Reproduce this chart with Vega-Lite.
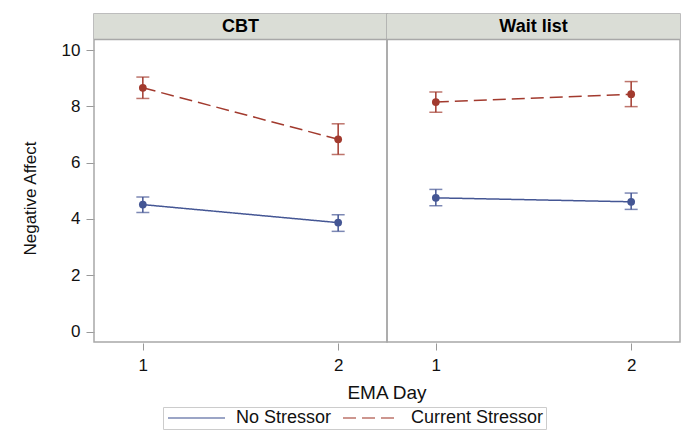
{
  "$schema": "https://vega.github.io/schema/vega-lite/v6.json",
  "padding": {"left": 21, "top": 13, "right": 5, "bottom": 5},
  "background": "white",
  "data": {"values": [
    {"Group": "CBT", "Day": 1, "Condition": "No Stressor", "Mean": 4.51, "Lo": 4.23, "Hi": 4.78},
    {"Group": "CBT", "Day": 2, "Condition": "No Stressor", "Mean": 3.87, "Lo": 3.56, "Hi": 4.15},
    {"Group": "CBT", "Day": 1, "Condition": "Current Stressor", "Mean": 8.66, "Lo": 8.28, "Hi": 9.04},
    {"Group": "CBT", "Day": 2, "Condition": "Current Stressor", "Mean": 6.83, "Lo": 6.29, "Hi": 7.38},
    {"Group": "Wait list", "Day": 1, "Condition": "No Stressor", "Mean": 4.75, "Lo": 4.47, "Hi": 5.05},
    {"Group": "Wait list", "Day": 2, "Condition": "No Stressor", "Mean": 4.61, "Lo": 4.34, "Hi": 4.92},
    {"Group": "Wait list", "Day": 1, "Condition": "Current Stressor", "Mean": 8.15, "Lo": 7.79, "Hi": 8.51},
    {"Group": "Wait list", "Day": 2, "Condition": "Current Stressor", "Mean": 8.43, "Lo": 7.99, "Hi": 8.88}
  ]},
  "facet": {"column": {"field": "Group", "type": "nominal", "title": "EMA Day",
    "header": {"labels": false, "titleOrient": "bottom", "titleFont": "Liberation Sans", "titleFontSize": 19, "titleFontWeight": "normal", "titleColor": "#111111", "titlePadding": 1}}},
  "spacing": 0,
  "bounds": "flush",
  "spec": {
    "width": 293,
    "height": 328,
    "layer": [
      {
        "transform": [{"aggregate": [{"op": "count", "as": "n"}], "groupby": ["Group"]}],
        "mark": {"type": "rect", "fill": "#DADDD6", "stroke": null},
        "encoding": {
          "x": {"datum": 0.75, "type": "quantitative"},
          "x2": {"datum": 2.25},
          "y": {"datum": 10.37, "type": "quantitative"},
          "y2": {"datum": 11.28}
        }
      },
      {
        "transform": [{"aggregate": [{"op": "count", "as": "n"}], "groupby": ["Group"]}],
        "mark": {"type": "rule", "color": "#A8A8A8", "strokeWidth": 1.5},
        "encoding": {
          "x": {"datum": 0.75, "type": "quantitative"},
          "x2": {"datum": 2.25},
          "y": {"datum": 10.37, "type": "quantitative"}
        }
      },
      {
        "transform": [{"aggregate": [{"op": "count", "as": "n"}], "groupby": ["Group"]}],
        "mark": {"type": "text", "font": "Liberation Sans", "fontSize": 18, "fontWeight": "bold", "color": "#000000", "baseline": "middle", "align": "center"},
        "encoding": {
          "x": {"datum": 1.5, "type": "quantitative"},
          "y": {"datum": 10.82, "type": "quantitative"},
          "text": {"field": "Group", "type": "nominal"}
        }
      },
      {
        "mark": {"type": "line", "strokeWidth": 1.5},
        "encoding": {
          "x": {"field": "Day", "type": "quantitative", "title": null,
                "scale": {"domain": [0.75, 2.25], "nice": false, "zero": false},
                "axis": {"values": [1, 2], "format": "d"}},
          "y": {"field": "Mean", "type": "quantitative", "title": "Negative Affect",
                "scale": {"domain": [-0.37, 11.28], "nice": false, "zero": false},
                "axis": {"values": [0, 2, 4, 6, 8, 10], "titleY": 184}},
          "color": {"field": "Condition", "type": "nominal",
                    "scale": {"domain": ["No Stressor", "Current Stressor"], "range": ["#445694", "#A23A2E"]},
                    "legend": {"title": null, "orient": "none", "legendX": 69, "legendY": 393, "direction": "horizontal", "symbolType": "M-1,0H8.5"}},
          "strokeDash": {"field": "Condition", "type": "nominal",
                    "scale": {"domain": ["No Stressor", "Current Stressor"], "range": [[1, 0], [13, 6]]},
                    "legend": {"title": null, "orient": "none", "legendX": 69, "legendY": 393, "direction": "horizontal", "symbolType": "M-1,0H8.5"}}
        }
      },
      {
        "mark": {"type": "rule", "strokeWidth": 1.5},
        "encoding": {
          "x": {"field": "Day", "type": "quantitative"},
          "y": {"field": "Lo", "type": "quantitative"},
          "y2": {"field": "Hi"},
          "color": {"field": "Condition", "type": "nominal"}
        }
      },
      {
        "mark": {"type": "tick", "orient": "horizontal", "size": 13, "thickness": 1.5},
        "encoding": {
          "x": {"field": "Day", "type": "quantitative"},
          "y": {"field": "Lo", "type": "quantitative"},
          "color": {"field": "Condition", "type": "nominal"}
        }
      },
      {
        "mark": {"type": "tick", "orient": "horizontal", "size": 13, "thickness": 1.5},
        "encoding": {
          "x": {"field": "Day", "type": "quantitative"},
          "y": {"field": "Hi", "type": "quantitative"},
          "color": {"field": "Condition", "type": "nominal"}
        }
      },
      {
        "mark": {"type": "point", "filled": true, "size": 60, "opacity": 1, "shape": "circle"},
        "encoding": {
          "x": {"field": "Day", "type": "quantitative"},
          "y": {"field": "Mean", "type": "quantitative"},
          "color": {"field": "Condition", "type": "nominal"}
        }
      }
    ]
  },
  "config": {
    "font": "Liberation Sans",
    "view": {"stroke": "#A8A8A8", "strokeWidth": 1.5},
    "axis": {
      "grid": false,
      "domain": false,
      "tickColor": "#999999",
      "tickWidth": 1,
      "labelFont": "Liberation Sans",
      "labelFontSize": 17,
      "labelColor": "#111111",
      "titleFont": "Liberation Sans",
      "titleFontSize": 17,
      "titleFontWeight": "normal",
      "titleColor": "#111111"
    },
    "axisY": {"tickSize": 8, "labelPadding": 6, "titlePadding": 22},
    "axisX": {"tickSize": 7, "labelPadding": 7, "offset": 1},
    "legend": {
      "strokeColor": "#CCCCCC",
      "padding": 2,
      "labelFont": "Liberation Sans",
      "labelFontSize": 18,
      "labelColor": "#111111",
      "symbolSize": 144,
      "symbolStrokeWidth": 1.5,
      "labelOffset": 53,
      "columnPadding": 8
    }
  }
}
